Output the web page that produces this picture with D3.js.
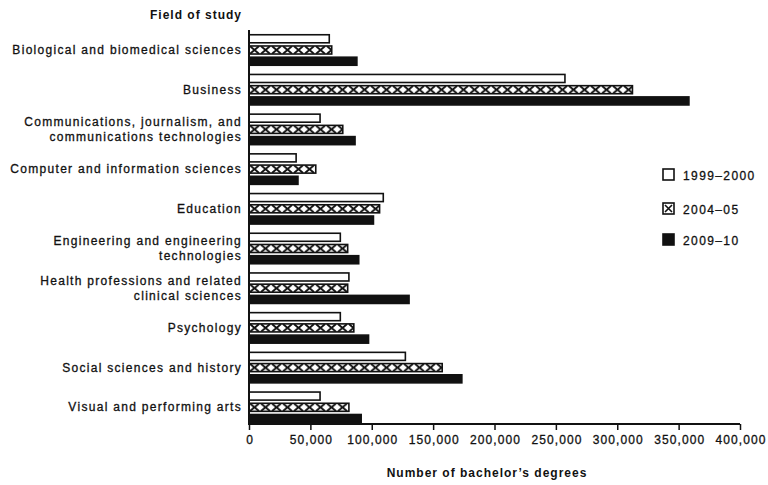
<!DOCTYPE html>
<html>
<head>
<meta charset="utf-8">
<script src="https://cdn.jsdelivr.net/npm/d3@7"></script>
<style>
  html, body { margin: 0; padding: 0; background: #fff; }
  svg { display: block; }
  text { font-family: "Liberation Sans", Arial, Helvetica, sans-serif; fill: #111; }
</style>
</head>
<body>
<svg id="chart" width="768" height="485"></svg>
<script>
// ---- Data ----
const categories = [
  "Biological and biomedical sciences",
  "Business",
  "Communications, journalism, and\ncommunications technologies",
  "Computer and information sciences",
  "Education",
  "Engineering and engineering\ntechnologies",
  "Health professions and related\nclinical sciences",
  "Psychology",
  "Social sciences and history",
  "Visual and performing arts"
];
const seriesNames = ["1999-2000", "2004-05", "2009-10"];
const values1999 = [66000, 258000, 58500, 39000, 110000, 75000, 82000, 75000, 128000, 58500];
const values2004 = [68000, 313000, 77000, 55000, 107000, 81000, 81000, 86000, 158000, 82000];
const values2009 = [88500, 359000, 87000, 40500, 102000, 90000, 131000, 98000, 174000, 92000];
const xTicks = [0, 50000, 100000, 150000, 200000, 250000, 300000, 350000, 400000];
const yTitle = "Field of study";
const xTitle = "Number of bachelor\u2019s degrees";

const seriesValues = [values1999, values2004, values2009];

// ---- Layout ----
const svg = d3.select("#chart");
const ink = "#111";
const x = d3.scaleLinear().domain([0, 400000]).range([249, 740]);
const y = d3.scaleBand().domain(categories).range([29, 426]).paddingInner(0).paddingOuter(0);
const inner = d3.scaleBand().domain(seriesNames).range([5, 37]).paddingInner(0.15).paddingOuter(0);

const defs = svg.append("defs");
const hatchW = 11;
function makeHatch(id, y0, h) {
  const p = defs.append("pattern")
    .attr("id", id)
    .attr("patternUnits", "userSpaceOnUse")
    .attr("x", x(0)).attr("y", y0)
    .attr("width", hatchW).attr("height", h);
  p.append("rect").attr("width", hatchW).attr("height", h).attr("fill", "#fff");
  p.append("path")
    .attr("d", `M1,1 L${hatchW-1},${h-1} M${hatchW-1},1 L1,${h-1}`)
    .attr("stroke", ink).attr("stroke-width", 2).attr("fill", "none");
}

// ---- Bars ----
const g = svg.append("g");
categories.forEach((cat, i) => {
  seriesNames.forEach((s, k) => {
    const v = seriesValues[k][i];
    const y0 = y(cat) + inner(s);
    const h = inner.bandwidth();
    let fill;
    if (k === 0) fill = "#fff";
    else if (k === 1) { makeHatch("hatch" + i, y0, h); fill = `url(#hatch${i})`; }
    else fill = ink;
    g.append("rect")
      .attr("x", x(0))
      .attr("y", y0 + 0.75)
      .attr("width", x(v) - x(0) - 0.75)
      .attr("height", h - 1.5)
      .attr("fill", fill)
      .attr("stroke", ink)
      .attr("stroke-width", 1.6);
  });
});

// ---- Axes ----
const xAxis = d3.axisBottom(x).tickValues(xTicks).tickSize(6).tickPadding(5)
  .tickFormat(d3.format(","));
const xg = svg.append("g").attr("transform", "translate(0,424)").call(xAxis);
xg.select(".domain").attr("stroke", ink).attr("stroke-width", 2).attr("d", `M${x(0)},0H${x(400000)}`);
xg.selectAll(".tick line").attr("stroke", ink).attr("stroke-width", 1.5);
xg.selectAll(".tick text")
  .style("font-family", '"Liberation Sans", Arial, sans-serif')
  .attr("font-size", 12).attr("fill", ink)
  .attr("letter-spacing", "1.1px")
  .attr("stroke", ink).attr("stroke-width", 0.3)
  .attr("dx", "0.55px");

// y axis line
svg.append("line")
  .attr("x1", x(0)).attr("x2", x(0))
  .attr("y1", 30).attr("y2", 425)
  .attr("stroke", ink).attr("stroke-width", 2);

// Category labels
categories.forEach(cat => {
  const lines = cat.split("\n");
  const cy = y(cat) + y.bandwidth() / 2 + 1;
  const lh = 14.5;
  const t = svg.append("text")
    .attr("text-anchor", "end")
    .attr("font-size", 12)
    .attr("letter-spacing", "1.3px")
    .attr("stroke", ink).attr("stroke-width", 0.3);
  lines.forEach((ln, j) => {
    t.append("tspan")
      .attr("x", 242)
      .attr("y", cy + (j - (lines.length - 1) / 2) * lh + 4.3)
      .text(ln);
  });
});

// Titles
svg.append("text")
  .attr("x", 242).attr("y", 19)
  .attr("text-anchor", "end")
  .attr("font-size", 12).attr("font-weight", "bold")
  .attr("letter-spacing", "1px")
  .text(yTitle);

svg.append("text")
  .attr("x", 487).attr("y", 477)
  .attr("text-anchor", "middle")
  .attr("font-size", 12).attr("font-weight", "bold")
  .attr("letter-spacing", "1px")
  .text(xTitle);

// ---- Legend ----
const legend = svg.append("g");
const legY = [175, 209, 240];
seriesNames.forEach((s, k) => {
  const cy = legY[k];
  let fill;
  if (k === 0) fill = "#fff";
  else if (k === 1) {
    const p = defs.append("pattern").attr("id", "legHatch")
      .attr("patternUnits", "userSpaceOnUse")
      .attr("x", 663).attr("y", cy - 6).attr("width", 11).attr("height", 11);
    p.append("rect").attr("width", 11).attr("height", 11).attr("fill", "#fff");
    p.append("path").attr("d", "M2,2 L9,9 M9,2 L2,9").attr("stroke", ink).attr("stroke-width", 1.6);
    fill = "url(#legHatch)";
  } else fill = ink;
  legend.append("rect")
    .attr("x", 663).attr("y", cy - 6).attr("width", 11).attr("height", 11)
    .attr("fill", fill).attr("stroke", ink).attr("stroke-width", 1.6);
  legend.append("text")
    .attr("x", 683).attr("y", cy + 4.5)
    .attr("font-size", 12)
    .attr("letter-spacing", "1.4px")
    .attr("stroke", ink).attr("stroke-width", 0.3)
    .text(s.replace("-", "\u2013"));
});
</script>
</body>
</html>
